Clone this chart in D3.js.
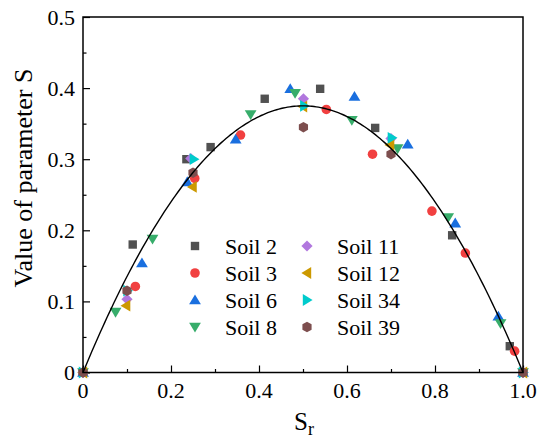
<!DOCTYPE html>
<html><head><meta charset="utf-8">
<script src="https://cdn.jsdelivr.net/npm/d3@7"></script>
<style>body{margin:0;background:#fff}svg{display:block}</style>
</head><body><svg id="c" width="540" height="439"></svg>
<script>
// ---- data ----
const soilNames = ["Soil 2","Soil 3","Soil 6","Soil 8","Soil 11","Soil 12","Soil 34","Soil 39"];
const soilColors = ["#515151","#F14040","#1A6FDF","#37AD6B","#B177DE","#CC9900","#00CBCC","#7D4E4E"];
const soilShapes = ["square","circle","triUp","triDown","diamond","triLeft","triRight","hexagon"];
const soil2Sr = [0,0.113,0.235,0.290,0.413,0.539,0.664,0.839,0.970,1];
const soil2S  = [0,0.180,0.300,0.317,0.385,0.399,0.344,0.193,0.037,0];
const soil3Sr = [0,0.119,0.254,0.358,0.553,0.658,0.793,0.869,0.981,1];
const soil3S  = [0,0.121,0.273,0.334,0.370,0.307,0.227,0.168,0.030,0];
const soil6Sr = [0,0.134,0.237,0.347,0.471,0.617,0.738,0.846,0.944,1];
const soil6S  = [0,0.154,0.268,0.328,0.399,0.388,0.321,0.210,0.079,0];
const soil8Sr = [0,0.074,0.158,0.381,0.482,0.611,0.715,0.830,0.949,1];
const soil8S  = [0,0.085,0.188,0.363,0.393,0.355,0.315,0.218,0.069,0];
const soil11Sr = [0,0.100,0.245,0.501,0.700,1];
const soil11S  = [0,0.103,0.301,0.385,0.329,0];
const soil12Sr = [0,0.098,0.249,0.500,0.698,1];
const soil12S  = [0,0.094,0.261,0.374,0.320,0];
const soil34Sr = [0,0.101,0.252,0.503,0.702,1];
const soil34S  = [0,0.115,0.300,0.375,0.330,0];
const soil39Sr = [0,0.100,0.250,0.501,0.700,1];
const soil39S  = [0,0.115,0.281,0.345,0.307,0];
const fitCoef = 1.5; // S = a * Sr * (1 - Sr)
const xTicks = [0,0.2,0.4,0.6,0.8,1.0];
const xTickLabels = ["0","0.2","0.4","0.6","0.8","1.0"];
const yTicks = [0,0.1,0.2,0.3,0.4,0.5];
const yTickLabels = ["0","0.1","0.2","0.3","0.4","0.5"];

const seriesSr = [soil2Sr,soil3Sr,soil6Sr,soil8Sr,soil11Sr,soil12Sr,soil34Sr,soil39Sr];
const seriesS = [soil2S,soil3S,soil6S,soil8S,soil11S,soil12S,soil34S,soil39S];

// ---- layout ----
const FONT = "'Liberation Serif', Tinos, 'Times New Roman', Times, serif";
const L=83, R=523, T=17, B=372.5;
const svg = d3.select("#c").attr("font-family",FONT);
const x = d3.scaleLinear().domain([0,1]).range([L,R]);
const y = d3.scaleLinear().domain([0,0.5]).range([B,T]);

function markerPath(shape){
  const p = d3.path();
  if(shape==="square"){const h=4.2;p.rect(-h,-h,2*h,2*h);}
  else if(shape==="circle"){p.arc(0,0,4.8,0,2*Math.PI);}
  else if(shape==="diamond"){const h=5.6;p.moveTo(0,-h);p.lineTo(h,0);p.lineTo(0,h);p.lineTo(-h,0);p.closePath();}
  else if(shape==="hexagon"){const r=5.3;for(let i=0;i<6;i++){const a=Math.PI/6+i*Math.PI/3;const px=r*Math.cos(a),py=r*Math.sin(a);if(i===0)p.moveTo(px,py);else p.lineTo(px,py);}p.closePath();}
  else {
    const s=5.6; let pts;
    if(shape==="triUp") pts=[[0,-s],[s*1.05,s*0.75],[-s*1.05,s*0.75]];
    else if(shape==="triDown") pts=[[0,s],[s*1.05,-s*0.75],[-s*1.05,-s*0.75]];
    else if(shape==="triLeft") pts=[[-s,0],[s*0.75,-s*1.05],[s*0.75,s*1.05]];
    else pts=[[s,0],[-s*0.75,-s*1.05],[-s*0.75,s*1.05]];
    p.moveTo(pts[0][0],pts[0][1]);p.lineTo(pts[1][0],pts[1][1]);p.lineTo(pts[2][0],pts[2][1]);p.closePath();
  }
  return p.toString();
}

// axes (inward ticks)
const xAxis = d3.axisBottom(x).tickValues(d3.range(0,1.0001,0.1)).tickSize(-7).tickFormat("");
const gx = svg.append("g").attr("transform",`translate(0,${B})`).call(xAxis);
gx.selectAll(".tick line").attr("y2",d=>Math.round(d*10)%2===0?-7:-3.5).attr("stroke","#000").attr("stroke-width",1.2);
gx.select(".domain").remove();
const yAxis = d3.axisLeft(y).tickValues(d3.range(0,0.5001,0.05)).tickSize(-7).tickFormat("");
const gy = svg.append("g").attr("transform",`translate(${L},0)`).call(yAxis);
gy.selectAll(".tick line").attr("x2",d=>Math.round(d*20)%2===0?7:3.5).attr("stroke","#000").attr("stroke-width",1.2);
gy.select(".domain").remove();

svg.append("g").selectAll("text").data(xTicks).join("text")
  .attr("font-family",FONT)
  .attr("x",d=>x(d)).attr("y",398).attr("text-anchor","middle").attr("font-size",22)
  .text((d,i)=>xTickLabels[i]);
svg.append("g").selectAll("text").data(yTicks).join("text")
  .attr("font-family",FONT)
  .attr("x",L-8).attr("y",d=>y(d)+7.5).attr("text-anchor","end").attr("font-size",22)
  .text((d,i)=>yTickLabels[i]);

// points
const plot = svg.append("g");
seriesSr.forEach((srs,k)=>{
  plot.append("g").selectAll("path").data(srs.map((v,i)=>[v,seriesS[k][i]])).join("path")
    .attr("d",markerPath(soilShapes[k])).attr("fill",soilColors[k])
    .attr("transform",d=>`translate(${x(d[0])},${y(d[1])})`);
});

// fit curve
const curveX = d3.range(0,1.0001,0.005);
svg.append("path").datum(curveX)
  .attr("d",d3.line().x(d=>x(d)).y(d=>y(fitCoef*d*(1-d))))
  .attr("fill","none").attr("stroke","#000").attr("stroke-width",1.4);

// frame
svg.append("rect").attr("x",L).attr("y",T).attr("width",R-L).attr("height",B-T)
  .attr("fill","none").attr("stroke","#000").attr("stroke-width",1.5);

// legend
const lg = svg.append("g");
soilNames.forEach((n,k)=>{
  const col = Math.floor(k/4), row = k%4;
  const mx = col===0?195:307, tx = col===0?225:337, yy = 246+row*27;
  lg.append("path").attr("d",markerPath(soilShapes[k])).attr("fill",soilColors[k]).attr("transform",`translate(${mx},${yy})`);
  lg.append("text").attr("font-family",FONT).attr("x",tx).attr("y",yy+7.5).attr("font-size",22).text(n);
});

// axis titles
svg.append("text").attr("font-family",FONT).attr("transform","translate(32,178) rotate(-90)").attr("text-anchor","middle").attr("font-size",26).text("Value of parameter S");
const xt = svg.append("text").attr("font-family",FONT).attr("x",304).attr("y",430).attr("text-anchor","middle").attr("font-size",25);
xt.append("tspan").text("S");
xt.append("tspan").attr("font-size",18).attr("dy",5).text("r");
</script></body></html>
